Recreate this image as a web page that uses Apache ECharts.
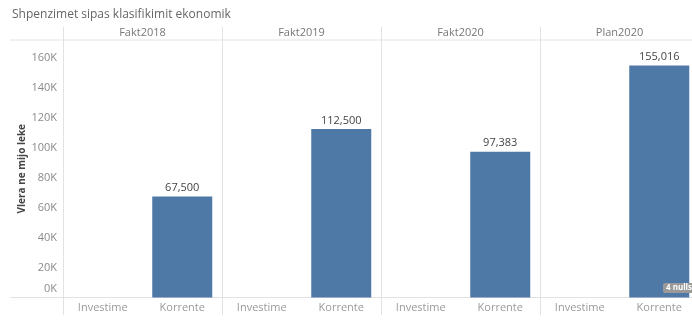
<!DOCTYPE html>
<html>
<head>
<meta charset="utf-8">
<script src="https://cdn.jsdelivr.net/npm/echarts@6/dist/echarts.min.js"></script>
<style>
  html, body { margin: 0; padding: 0; background: #fff; }
  #chart { width: 692px; height: 328px; }
</style>
</head>
<body>
<div id="chart"></div>
<script>
// Panels (columns) and the categories inside each panel
const panels = ['Fakt2018', 'Fakt2019', 'Fakt2020', 'Plan2020'];
const categories = ['Investime', 'Korrente'];
// Values in thousand lek; Investime has no data (nulls)
const investime = [null, null, null, null];
const korrente = [67500, 112500, 97383, 155016];
const yTicks = [0, 20000, 40000, 60000, 80000, 100000, 120000, 140000, 160000];

const FONT = '"Open Sans", "Noto Sans", sans-serif';
const W = 692, PANEL_LEFT = 63, PANEL_W = 159, TOP = 40, BASE = 297.5;

const chart = echarts.init(document.getElementById('chart'), null, { renderer: 'canvas' });

const grids = [], xAxes = [], yAxes = [], series = [];
panels.forEach((p, i) => {
  const left = PANEL_LEFT + PANEL_W * i;
  // the last panel runs past the right edge of the canvas
  grids.push({
    left: left, top: TOP, width: PANEL_W, height: BASE - TOP,
    outerBoundsMode: 'none', containLabel: false
  });
  xAxes.push({
    type: 'category', gridIndex: i, data: categories,
    axisLine: { show: false }, axisTick: { show: false },
    axisLabel: { color: '#9a9a9a', fontSize: 11, fontFamily: FONT, margin: 5 }
  });
  yAxes.push({
    type: 'value', gridIndex: i, min: 0, max: 172000, interval: 20000,
    splitLine: { show: false }, axisLine: { show: false }, axisTick: { show: false },
    axisLabel: {
      show: i === 0, color: '#8a8a8a', fontSize: 11, fontFamily: FONT, margin: 6,
      formatter: v => {
        if (!yTicks.includes(v)) return '';
        return v === 0 ? '{z|0K}' : (v / 1000) + 'K';
      },
      rich: { z: { color: '#8a8a8a', fontSize: 11, fontFamily: FONT, padding: [0, 0, 18, 0] } }
    },
    name: i === 0 ? 'Vlera ne mijo leke' : '',
    nameLocation: 'middle', nameGap: 36, nameRotate: 90,
    nameTextStyle: { color: '#444', fontSize: 10, fontWeight: 'bold', fontFamily: FONT }
  });
  series.push({
    type: 'bar', xAxisIndex: i, yAxisIndex: i, barWidth: 60,
    data: [investime[i], korrente[i]],
    itemStyle: { color: '#4e79a7' },
    label: {
      show: true, position: 'top', distance: 3, color: '#444', fontSize: 11, fontFamily: FONT,
      formatter: d => d.value == null ? '' : d.value.toLocaleString('en-US')
    }
  });
});

// Facet frame: header line, baseline, column dividers, panel headers
const graphics = [
  { type: 'text', left: 12, top: 9, style: { text: 'Shpenzimet sipas klasifikimit ekonomik', fill: '#666', font: '12px ' + FONT } },
  { type: 'line', shape: { x1: 10, y1: 40, x2: W, y2: 40 }, style: { stroke: '#e2e2e2', lineWidth: 1 } },
  { type: 'line', shape: { x1: 10, y1: 297.5, x2: W, y2: 297.5 }, style: { stroke: '#e2e2e2', lineWidth: 1 } }
];
panels.forEach((p, i) => {
  const x = PANEL_LEFT + PANEL_W * i + 0.5;
  graphics.push({ type: 'line', shape: { x1: x, y1: 27, x2: x, y2: 315 }, style: { stroke: '#e2e2e2', lineWidth: 1 } });
  graphics.push({
    type: 'text', x: PANEL_LEFT + PANEL_W * i + PANEL_W / 2, y: 33,
    style: { text: p, fill: '#777', font: '11px ' + FONT, textAlign: 'center', textVerticalAlign: 'middle' }
  });
});
// Null-count indicator
graphics.push({
  type: 'group', left: 663, top: 283, z: 100,
  children: [
    { type: 'rect', z: 100, shape: { x: 0, y: 0, width: 32, height: 10, r: 2 }, style: { fill: '#9a9a9a' } },
    { type: 'text', z: 101, x: 3, y: 5, style: { text: '4 nulls', fill: '#fff', font: 'bold 8px ' + FONT, textVerticalAlign: 'middle' } }
  ]
});

chart.setOption({
  animation: false,
  grid: grids, xAxis: xAxes, yAxis: yAxes, series: series,
  graphic: graphics
});
</script>
</body>
</html>
